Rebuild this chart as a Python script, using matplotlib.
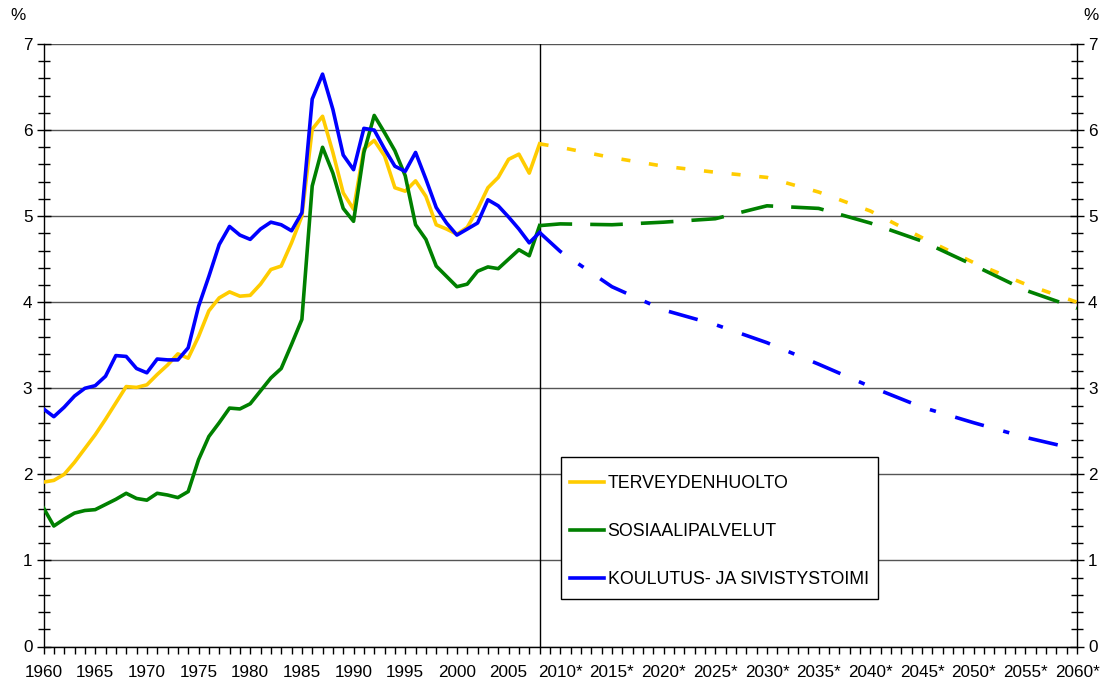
import matplotlib
matplotlib.use("Agg")
import matplotlib.pyplot as plt
from matplotlib.lines import Line2D
from matplotlib.patches import Rectangle

plt.rcParams['font.family'] = ['Liberation Sans', 'DejaVu Sans']
plt.rcParams['lines.scale_dashes'] = False

# ---- data ----
years_hist = list(range(1960, 2009))
terveys_hist = [1.91, 1.93, 2.00, 2.14, 2.30, 2.46, 2.64, 2.83, 3.02, 3.01,
                3.04, 3.16, 3.27, 3.40, 3.35, 3.60, 3.90, 4.05, 4.12, 4.07,
                4.08, 4.21, 4.38, 4.42, 4.69, 5.00, 6.01, 6.16, 5.74, 5.27,
                5.08, 5.78, 5.88, 5.70, 5.33, 5.29, 5.41, 5.23, 4.90, 4.85,
                4.79, 4.87, 5.08, 5.33, 5.45, 5.66, 5.72, 5.50, 5.84]
sosiaali_hist = [1.61, 1.40, 1.48, 1.55, 1.58, 1.59, 1.65, 1.71, 1.78, 1.72,
                 1.70, 1.78, 1.76, 1.73, 1.80, 2.17, 2.44, 2.60, 2.77, 2.76,
                 2.82, 2.97, 3.12, 3.23, 3.51, 3.80, 5.35, 5.80, 5.50, 5.09,
                 4.94, 5.74, 6.17, 5.97, 5.76, 5.47, 4.90, 4.73, 4.42, 4.30,
                 4.18, 4.21, 4.36, 4.41, 4.39, 4.50, 4.61, 4.54, 4.89]
koulutus_hist = [2.76, 2.67, 2.78, 2.91, 3.00, 3.03, 3.14, 3.38, 3.37, 3.23,
                 3.18, 3.34, 3.33, 3.33, 3.47, 3.95, 4.30, 4.67, 4.88, 4.78,
                 4.73, 4.85, 4.93, 4.90, 4.83, 5.04, 6.36, 6.65, 6.24, 5.71,
                 5.54, 6.02, 6.00, 5.78, 5.58, 5.52, 5.74, 5.43, 5.10, 4.92,
                 4.78, 4.85, 4.92, 5.19, 5.12, 4.99, 4.85, 4.69, 4.81]

years_proj = [2008, 2010, 2015, 2020, 2025, 2030, 2035, 2040, 2045, 2050, 2055, 2060]
terveys_proj = [5.84, 5.80, 5.68, 5.58, 5.51, 5.45, 5.28, 5.06, 4.75, 4.46, 4.21, 4.00]
sosiaali_proj = [4.89, 4.91, 4.90, 4.93, 4.97, 5.12, 5.09, 4.92, 4.71, 4.43, 4.14, 3.93]
koulutus_proj = [4.81, 4.59, 4.18, 3.91, 3.74, 3.53, 3.28, 3.02, 2.78, 2.60, 2.43, 2.29]

labels = ["TERVEYDENHUOLTO", "SOSIAALIPALVELUT", "KOULUTUS- JA SIVISTYSTOIMI"]
colors = ["#FFCC00", "#008000", "#0000FF"]
tick_years = list(range(1960, 2061, 5))
tick_labels = [str(y) if y < 2010 else f"{y}*" for y in tick_years]

# ---- figure ----
W, H = 1102, 682
fig = plt.figure(figsize=(W / 100, H / 100), dpi=100)
ax = fig.add_axes([43.5 / W, 1 - 646.5 / H, (1077 - 43.5) / W, (646.5 - 44) / H])

lw = 2.6
ax.plot(years_hist, terveys_hist, color=colors[0], lw=lw, solid_joinstyle='round', zorder=3)
ax.plot(years_hist, sosiaali_hist, color=colors[1], lw=lw, solid_joinstyle='round', zorder=3)
ax.plot(years_hist, koulutus_hist, color=colors[2], lw=lw, solid_joinstyle='round', zorder=3)

ax.plot(years_proj, terveys_proj, color=colors[0], lw=lw, dashes=(6.5, 13.5), zorder=3)
ax.plot(years_proj, sosiaali_proj, color=colors[1], lw=lw, dashes=(23.5, 13.0), zorder=3)
ax.plot(years_proj, koulutus_proj, color=colors[2], lw=lw, dashes=(21.5, 14.5, 4.5, 14.5), zorder=3)

ax.axvline(2008, color='black', lw=1.0, zorder=2)

ax.set_xlim(1960, 2060)
ax.set_ylim(0, 7)
ax.set_yticks(range(0, 8))
ax.set_yticks([i * 0.2 for i in range(36)], minor=True)
ax.set_xticks(tick_years)
ax.set_xticklabels(tick_labels)
ax.set_xticks(list(range(1960, 2061)), minor=True)

ax.grid(axis='y', which='major', color='#555555', lw=1.0, zorder=1)
ax.spines['top'].set_visible(False)
for s in ['left', 'right', 'bottom']:
    ax.spines[s].set_linewidth(1.0)
    ax.spines[s].set_color('black')

fs = 12.3
ax.tick_params(axis='y', which='both', direction='inout', left=True, right=True,
               labelleft=True, labelright=True, labelsize=fs, width=1.0)
ax.tick_params(axis='y', which='major', length=10, pad=3)
ax.tick_params(axis='y', which='minor', length=8)
ax.tick_params(axis='x', which='both', direction='out', length=5, width=1.0,
               labelsize=fs, pad=8)

fig.text(18 / W, 1 - 16 / H, "%", fontsize=fs, ha='center', va='center')
fig.text(1091 / W, 1 - 16 / H, "%", fontsize=fs, ha='center', va='center')

# legend box (drawn explicitly) + legend entries
box = Rectangle((561 / W, 1 - 599 / H), (878 - 561) / W, (599 - 457) / H,
                transform=fig.transFigure, facecolor='white', edgecolor='black',
                lw=1.0, zorder=4)
ax.add_patch(box)
box.set_clip_on(False)

handles = [Line2D([], [], color=c, lw=lw) for c in colors]
leg = ax.legend(handles, labels, loc='upper left',
                bbox_to_anchor=(570 / W, 1 - 475 / H), bbox_transform=fig.transFigure,
                borderaxespad=0, frameon=False, fontsize=12.75, handlelength=1.9,
                handletextpad=0.22, labelspacing=1.76, borderpad=0)
leg.set_zorder(5)

fig.savefig("out.png", dpi=100, facecolor='white')
